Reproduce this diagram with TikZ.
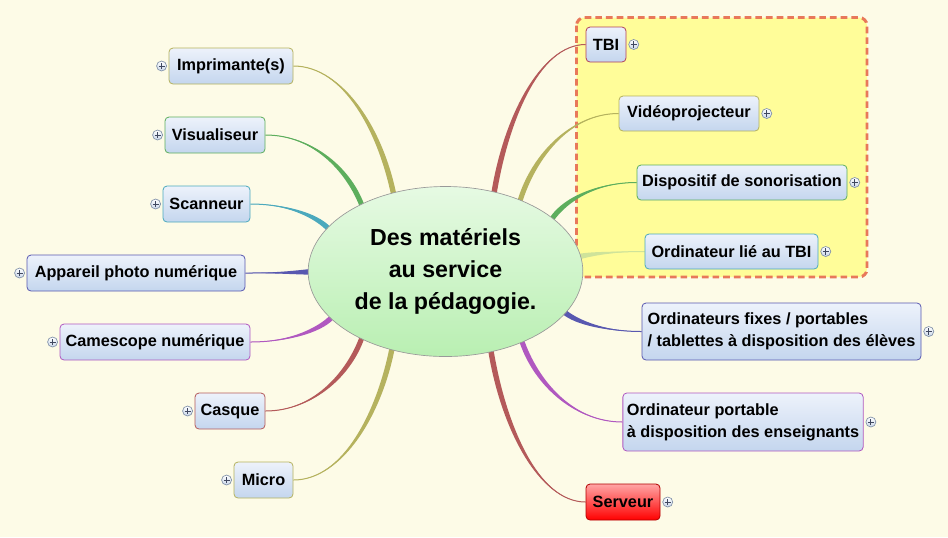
\documentclass[tikz,border=0pt]{standalone}
\usepackage{fontspec}
\setmainfont{Liberation Sans}
\usetikzlibrary{calc,backgrounds,shapes.geometric}
\definecolor{bgc}{HTML}{FDFBE7}
\definecolor{yel}{HTML}{FFFD99}
\definecolor{dsh}{HTML}{E8785A}
\definecolor{olv}{HTML}{B5B25E}
\definecolor{grn}{HTML}{5DAE5D}
\definecolor{tea}{HTML}{4BA9BD}
\definecolor{blu}{HTML}{5858B0}
\definecolor{pur}{HTML}{B058C0}
\definecolor{rdb}{HTML}{B45A5A}
\definecolor{lgr}{HTML}{CFE39A}
\definecolor{tbib}{HTML}{B0405A}
\definecolor{boxtop}{HTML}{EDF2FB}
\definecolor{boxbot}{HTML}{C4D6EE}
\definecolor{plusb}{HTML}{8090A8}
\definecolor{plusf}{HTML}{C8D6EA}
\definecolor{plusc}{HTML}{404860}
\definecolor{elltop}{HTML}{E6FAE3}
\definecolor{ellbot}{HTML}{B9EFB2}
\newcommand\mybranch[3]{%
  \coordinate (bs) at ($(c.#2)!5pt!(c.center)$);
  \coordinate (be) at (#3);
  \coordinate (bc1) at ($(bs)!0.5!($(bs|-be)!0.25!(be)$)$);
  \coordinate (bc2) at ($(be)!0.5!(be-|bs)$);
  \coordinate (bsa) at ($(bs)!2.2pt!90:(be)$);
  \coordinate (bsb) at ($(bs)!2.2pt!-90:(be)$);
  \fill[#1] (bsa) .. controls ($(bc1)+(bsa)-(bs)$) and (bc2) .. (be)
     .. controls (bc2) and ($(bc1)+(bsb)-(bs)$) .. (bsb) -- cycle;
  \draw[#1, line width=0.75pt] (bs) .. controls (bc1) and (bc2) .. (be);
}
\begin{document}
\begin{tikzpicture}[x=0.75pt,y=-0.75pt,
  mbox/.style={draw=#1, rounded corners=3pt, top color=boxtop, bottom color=boxbot,
    line width=0.6pt, minimum height=27pt, inner xsep=3pt, inner ysep=2pt,
    font=\fontsize{12.2}{16.5}\selectfont\bfseries, text=black},
  plusic/.style={circle, draw=plusb, line width=0.5pt, inner sep=0pt, minimum size=7.5pt,
    top color=white, bottom color=plusf,
    path picture={\draw[plusc, line width=0.6pt]
      ([xshift=-2.3pt]path picture bounding box.center) -- ([xshift=2.3pt]path picture bounding box.center)
      ([yshift=-2.3pt]path picture bounding box.center) -- ([yshift=2.3pt]path picture bounding box.center);}},
  grp/.style={draw=dsh, fill=yel, line width=2.2pt, dash pattern=on 5pt off 3pt, rounded corners=6pt}
]
\useasboundingbox (0,0) rectangle (948,537);

% central topic
\node[ellipse, draw=gray!80, line width=0.5pt, top color=elltop, bottom color=ellbot,
  minimum width=206pt, minimum height=127.5pt, align=center,
  font=\fontsize{17.4}{24}\selectfont\bfseries] (c) at (445.5,271.5)
  {Des matériels\\au service\\de la pédagogie.};

% left topics
\node[mbox=olv, minimum width=93pt] (imp) at (231,66) {Imprimante(s)};
\node[mbox=grn, minimum width=75pt] (vis) at (215,135) {Visualiseur};
\node[mbox=tea, minimum width=65.25pt] (sca) at (206.5,204) {Scanneur};
\node[mbox=blu, minimum width=163.5pt] (app) at (136,273) {Appareil photo numérique};
\node[mbox=pur, minimum width=142.5pt] (cam) at (155,342) {Camescope numérique};
\node[mbox=rdb, minimum width=52.5pt] (cas) at (230,411) {Casque};
\node[mbox=olv, minimum width=44.25pt] (mic) at (263.5,480) {Micro};

% right topics
\node[mbox=tbib, minimum width=30pt, minimum height=26.25pt] (tbi) at (606,44.5) {TBI};
\node[mbox=olv, minimum width=105pt, minimum height=26.25pt] (vid) at (689,113.5) {Vidéoprojecteur};
\node[mbox=grn, minimum width=157.5pt, minimum height=26.25pt] (dis) at (742,182.5) {Dispositif de sonorisation};
\node[mbox=tea, minimum width=129.75pt, minimum height=26.25pt] (olt) at (731.5,251.5) {Ordinateur lié au TBI};
\node[mbox=blu, minimum width=209.25pt, minimum height=42.75pt, align=left] (ofp) at (781.5,331.5)
  {Ordinateurs fixes / portables\\/ tablettes à disposition des élèves};
\node[mbox=pur, minimum width=180pt, minimum height=43.5pt, align=left] (opo) at (743,422)
  {Ordinateur portable\\à disposition des enseignants};
\node[mbox=rdb, draw=red!70!black, top color=red!35, bottom color=red, minimum width=55.5pt] (ser) at (623,502) {Serveur};

% plus icons
\foreach \n in {imp,vis,sca,app,cam,cas,mic}
  \node[plusic] (p\n) at ([xshift=-5.25pt]\n.west) {};
\foreach \n in {tbi,vid,dis,olt,ofp,opo,ser}
  \node[plusic] (p\n) at ([xshift=5.5pt]\n.east) {};

\begin{scope}[on background layer]
  \fill[bgc] (0,0) rectangle (948,537);
  \draw[grp] (576.5,17.5) rectangle (867,277);
  % left branches
  \mybranch{olv}{125}{imp.east}
  \mybranch{grn}{143}{vis.east}
  \mybranch{tea}{161}{sca.east}
  \mybranch{blu}{180}{app.east}
  \mybranch{pur}{201}{cam.east}
  \mybranch{rdb}{217}{cas.east}
  \mybranch{olv}{234}{mic.east}
  % right branches
  \mybranch{rdb}{57}{tbi.west}
  \mybranch{olv}{42}{vid.west}
  \mybranch{grn}{25}{dis.west}
  \mybranch{lgr}{6}{olt.west}
  \mybranch{blu}{-18}{ofp.west}
  \mybranch{pur}{-41}{opo.west}
  \mybranch{rdb}{-59}{ser.west}
\end{scope}
\end{tikzpicture}
\end{document}
